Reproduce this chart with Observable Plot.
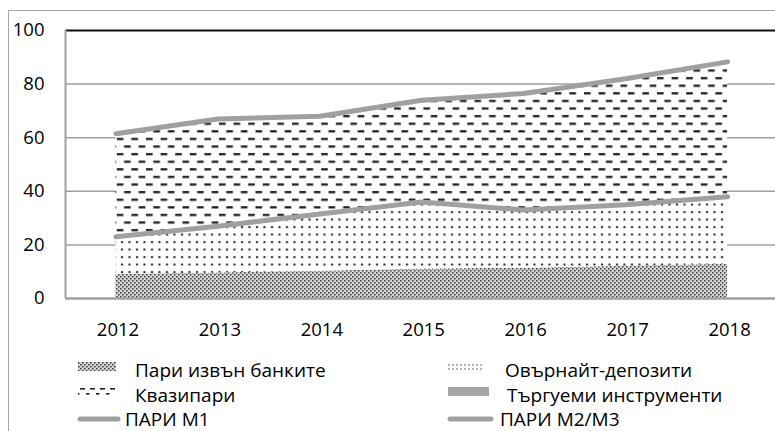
<!DOCTYPE html>
<html><head><meta charset="utf-8">
<script src="https://cdn.jsdelivr.net/npm/d3@7"></script>
<script src="https://cdn.jsdelivr.net/npm/@observablehq/plot@0.6"></script>
<style>
body{margin:0;background:#fff;font-family:"Open Sans",sans-serif;}
#wrap{position:relative;width:775px;height:431px;overflow:hidden;background:#fff;}
#frame{position:absolute;left:8px;top:10px;width:900px;height:500px;border-left:1.5px solid #a6a6a6;border-top:1.5px solid #a6a6a6;}
#chart{position:absolute;left:0;top:0;}
#legend{position:absolute;left:0;top:0;}
</style></head><body>
<svg width="0" height="0" style="position:absolute">
<defs>
<pattern id="pCash" patternUnits="userSpaceOnUse" width="4" height="4">
<rect width="4" height="4" fill="#d4d4d4"/>
<rect x="0" y="0" width="1.5" height="1.5" fill="#3a3a3a"/>
<rect x="2" y="2" width="1.5" height="1.5" fill="#3a3a3a"/>
</pattern>
<pattern id="pOver" patternUnits="userSpaceOnUse" width="7.5" height="7.5">
<rect width="7.5" height="7.5" fill="#fff"/>
<circle cx="2" cy="2" r="1.1" fill="#222"/>
</pattern>
<pattern id="pQuasi" patternUnits="userSpaceOnUse" width="14.6" height="15.2">
<rect width="14.6" height="15.2" fill="#fff"/>
<rect x="0" y="1" width="6.6" height="2.3" fill="#222"/>
<rect x="7.3" y="8.6" width="6.6" height="2.3" fill="#222"/>
</pattern>
<pattern id="pOverL" patternUnits="userSpaceOnUse" width="4" height="4">
<rect width="4" height="4" fill="#fff"/>
<circle cx="1" cy="1" r="0.75" fill="#444"/>
</pattern>
<pattern id="pQuasiL" patternUnits="userSpaceOnUse" width="10" height="10">
<rect width="10" height="10" fill="#fff"/>
<rect x="0" y="8" width="5" height="1.6" fill="#222"/>
<rect x="6" y="3" width="3.5" height="1.6" fill="#222"/>
</pattern>
</defs>
</svg>
<div id="wrap">
  <div id="frame"></div>
  <div id="chart"></div>
  <div id="legend"></div>
</div>
<script>
// ---- data ----
const years = [2012, 2013, 2014, 2015, 2016, 2017, 2018];
const cashOutsideBanks = [9.0, 9.5, 10.2, 11.0, 11.3, 12.0, 12.8];
const overnightDeposits = [14.0, 17.5, 21.3, 25.0, 21.7, 23.0, 25.2];
const quasiMoney = [38.3, 39.8, 36.3, 37.8, 43.3, 46.8, 50.1];
const marketableInstruments = [0.2, 0.2, 0.2, 0.2, 0.2, 0.2, 0.2];
const moneyM1 = [23.0, 27.0, 31.5, 36.0, 33.0, 35.0, 38.0];
const moneyM2M3 = [61.5, 67.0, 68.0, 74.0, 76.5, 82.0, 88.3];
const yTicks = [0, 20, 40, 60, 80, 100];
const seriesNames = ["Пари извън банките", "Овърнайт-депозити", "Квазипари", "Търгуеми инструменти"];
const lineNames = ["ПАРИ М1", "ПАРИ М2/М3"];

const seriesValues = [cashOutsideBanks, overnightDeposits, quasiMoney, marketableInstruments];
const fills = ["url(#pCash)", "url(#pOver)", "url(#pQuasi)", "#a6a6a6"];

const rows = [];
seriesNames.forEach((s, k) => years.forEach((yr, i) => rows.push({year: yr, series: s, value: seriesValues[k][i]})));
const m1Rows = years.map((yr, i) => ({year: yr, value: moneyM1[i]}));
const m2Rows = years.map((yr, i) => ({year: yr, value: moneyM2M3[i]}));

const grey = "#a0a0a0";
const chart = Plot.plot({
  width: 775,
  height: 345,
  marginLeft: 65,
  marginRight: 0,
  marginTop: 30,
  marginBottom: 47,
  style: {fontFamily: "'Open Sans', sans-serif", fontSize: "18.5px", color: "#000", background: "transparent", overflow: "visible"},
  x: {type: "linear", domain: [2011.505, 2018.47]},
  y: {domain: [0, 100]},
  color: {domain: seriesNames, range: fills},
  marks: [
    Plot.ruleY([20, 40, 60, 80], {stroke: grey, strokeWidth: 1.5}),
    Plot.ruleY([100], {stroke: "#111", strokeWidth: 2}),
    Plot.areaY(rows, Plot.stackY({x: "year", y: "value", z: "series", fill: "series", order: seriesNames})),
    Plot.lineY(m1Rows, {x: "year", y: "value", stroke: grey, strokeWidth: 5, strokeLinecap: "round", strokeLinejoin: "round"}),
    Plot.lineY(m2Rows, {x: "year", y: "value", stroke: grey, strokeWidth: 5, strokeLinecap: "round", strokeLinejoin: "round"}),
    Plot.ruleX([2011.505], {y1: 0, y2: 100, stroke: grey, strokeWidth: 2}),
    Plot.ruleY([0], {stroke: grey, strokeWidth: 2.5}),
    Plot.axisX(years, {tickSize: 0, tickPadding: 24, tickFormat: d => String(d), label: null, dx: 2}),
    Plot.axisY(yTicks, {tickSize: 0, tickPadding: 21, label: null})
  ]
});
document.getElementById("chart").appendChild(chart);

// ---- legend ----
const leg = d3.select("#legend").append("svg").attr("width", 775).attr("height", 431)
  .style("font-family", "'Open Sans', sans-serif").style("font-size", "19px");
const legendItems = [
  {name: seriesNames[0], kind: "rect", fill: "url(#pCash)", sx: 78, sy: 362, sw: 38, sh: 9, tx: 135, ty: 377},
  {name: seriesNames[1], kind: "rect", fill: "url(#pOverL)", sx: 448, sy: 362, sw: 34, sh: 8, tx: 505, ty: 377},
  {name: seriesNames[2], kind: "rect", fill: "url(#pQuasiL)", sx: 78, sy: 388, sw: 38, sh: 10, tx: 135, ty: 402},
  {name: seriesNames[3], kind: "rect", fill: "#a6a6a6", sx: 448, sy: 387, sw: 41, sh: 9, tx: 507, ty: 402},
  {name: lineNames[0], kind: "line", sx: 80, ex: 118, sy: 419, tx: 125, ty: 426},
  {name: lineNames[1], kind: "line", sx: 450, ex: 491, sy: 419, tx: 500, ty: 426}
];
legendItems.forEach(it => {
  if (it.kind === "rect") {
    leg.append("rect").attr("x", it.sx).attr("y", it.sy).attr("width", it.sw).attr("height", it.sh).attr("fill", it.fill);
  } else {
    leg.append("line").attr("x1", it.sx).attr("x2", it.ex).attr("y1", it.sy).attr("y2", it.sy)
      .attr("stroke", grey).attr("stroke-width", 5).attr("stroke-linecap", "round");
  }
  leg.append("text").attr("x", it.tx).attr("y", it.ty).attr("fill", "#000").text(it.name);
});
</script>
</body></html>
